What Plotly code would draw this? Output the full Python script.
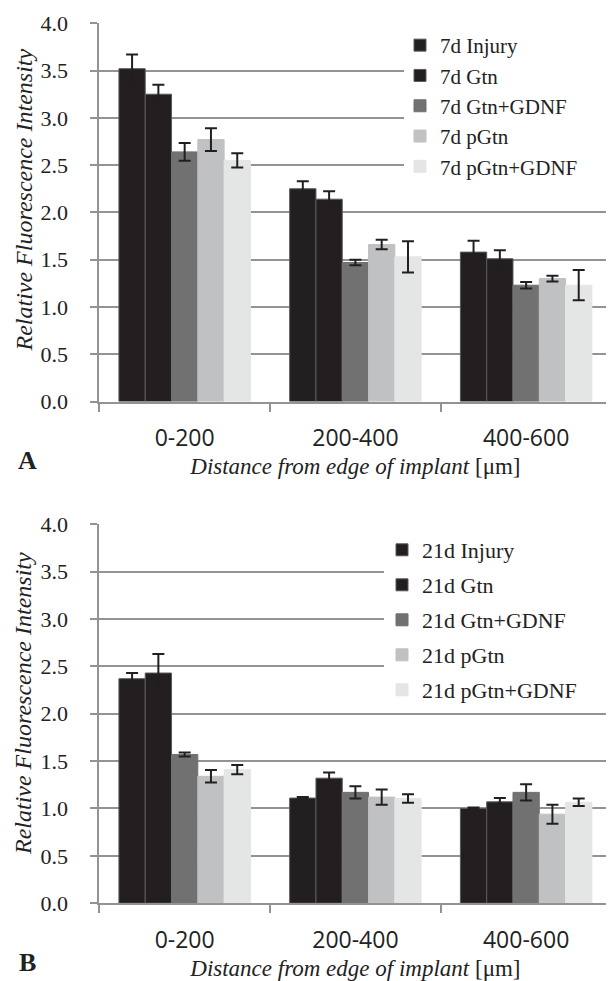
import plotly.graph_objects as go

categories = ["0-200", "200-400", "400-600"]
y_ticks = [0.0, 0.5, 1.0, 1.5, 2.0, 2.5, 3.0, 3.5, 4.0]

names_7d = ["7d Injury", "7d Gtn", "7d Gtn+GDNF", "7d pGtn", "7d pGtn+GDNF"]
injury_7d = [3.52, 2.25, 1.58]
injury_7d_err = [0.15, 0.08, 0.12]
gtn_7d = [3.25, 2.14, 1.51]
gtn_7d_err = [0.10, 0.085, 0.09]
gtn_gdnf_7d = [2.64, 1.47, 1.23]
gtn_gdnf_7d_err = [0.095, 0.03, 0.035]
pgtn_7d = [2.77, 1.66, 1.30]
pgtn_7d_err = [0.12, 0.05, 0.03]
pgtn_gdnf_7d = [2.55, 1.53, 1.23]
pgtn_gdnf_7d_err = [0.075, 0.165, 0.16]

names_21d = ["21d Injury", "21d Gtn", "21d Gtn+GDNF", "21d pGtn", "21d pGtn+GDNF"]
injury_21d = [2.37, 1.11, 1.00]
injury_21d_err = [0.06, 0.01, 0.01]
gtn_21d = [2.43, 1.32, 1.07]
gtn_21d_err = [0.20, 0.06, 0.04]
gtn_gdnf_21d = [1.57, 1.17, 1.17]
gtn_gdnf_21d_err = [0.02, 0.065, 0.085]
pgtn_21d = [1.34, 1.12, 0.94]
pgtn_21d_err = [0.065, 0.08, 0.10]
pgtn_gdnf_21d = [1.41, 1.105, 1.065]
pgtn_gdnf_21d_err = [0.05, 0.045, 0.04]

colors = ["#231f20", "#231f20", "#717171", "#c0c1c3", "#e4e6e5"]
edge_colors = ["#5a5a5a", "#5a5a5a", "#717171", "#c0c1c3", "#e4e6e5"]

# The page body has an 8px margin, so the figure is sized to fit the window
OFF = 8
W, H = 614 - OFF, 981 - OFF
def fx(p):
    return (p - OFF) / W
def fy(p):
    return 1 - (p - OFF) / H

SERIF = "Liberation Serif, Times New Roman, Times, serif"
SANS = "Open Sans, sans-serif"
GRID = "#939393"
INK = "#222222"

fig = go.Figure()

top_vals = [injury_7d, gtn_7d, gtn_gdnf_7d, pgtn_7d, pgtn_gdnf_7d]
top_errs = [injury_7d_err, gtn_7d_err, gtn_gdnf_7d_err, pgtn_7d_err, pgtn_gdnf_7d_err]
bot_vals = [injury_21d, gtn_21d, gtn_gdnf_21d, pgtn_21d, pgtn_gdnf_21d]
bot_errs = [injury_21d_err, gtn_21d_err, gtn_gdnf_21d_err, pgtn_21d_err, pgtn_gdnf_21d_err]

for i in range(5):
    fig.add_trace(go.Bar(
        x=categories, y=top_vals[i], name=names_7d[i],
        marker=dict(color=colors[i], line=dict(color=edge_colors[i], width=1)),
        error_y=dict(type="data", array=top_errs[i], color="#231f20", thickness=2, width=6),
        xaxis="x", yaxis="y", legend="legend", legendgroup="a%d" % i,
    ))
for i in range(5):
    fig.add_trace(go.Bar(
        x=categories, y=bot_vals[i], name=names_21d[i],
        marker=dict(color=colors[i], line=dict(color=edge_colors[i], width=1)),
        error_y=dict(type="data", array=bot_errs[i], color="#231f20", thickness=2, width=6),
        xaxis="x2", yaxis="y2", legend="legend2", legendgroup="b%d" % i,
    ))

xdom = [fx(99.3), fx(611.5)]
xax = dict(
    domain=xdom, type="category", showgrid=False, zeroline=False, automargin=False,
    showline=True, linecolor=GRID, linewidth=2,
    ticks="outside", tickson="boundaries", ticklen=8, tickcolor=GRID, tickwidth=2,
    tickfont=dict(family=SANS, size=23, color=INK), ticklabelstandoff=15,
    title=dict(text="<i>Distance from edge of implant</i> [μm]",
               font=dict(family=SERIF, size=23, color=INK), standoff=6),
)
yax = dict(
    range=[0, 4.0], tickvals=y_ticks, tickformat=".1f", automargin=False,
    showgrid=True, gridcolor=GRID, gridwidth=2, zeroline=False,
    showline=True, linecolor=GRID, linewidth=2,
    ticks="outside", ticklen=7, tickcolor=GRID, tickwidth=2,
    tickfont=dict(family=SERIF, size=22, color=INK), ticklabelstandoff=18,
)

ytitle = "<i>Relative Fluorescence Intensity</i>"

fig.update_layout(
    width=W, height=H, margin=dict(l=0, r=0, t=0, b=0, pad=0),
    paper_bgcolor="white", plot_bgcolor="white",
    barmode="group", bargap=0.23, bargroupgap=0,
    xaxis=dict(xax, anchor="y"),
    yaxis=dict(yax, domain=[fy(401.5), fy(23.3)], anchor="x"),
    xaxis2=dict(xax, anchor="y2"),
    yaxis2=dict(yax, domain=[fy(903.2), fy(524.3)], anchor="x2"),
    legend=dict(x=fx(400), y=fy(25), xanchor="left", yanchor="top",
                bgcolor="rgba(0,0,0,0)", borderwidth=0,
                font=dict(family=SERIF, size=21, color=INK),
                tracegroupgap=0, itemclick=False),
    legend2=dict(x=fx(382), y=fy(529), xanchor="left", yanchor="top",
                 bgcolor="rgba(0,0,0,0)", borderwidth=0,
                 font=dict(family=SERIF, size=22, color=INK),
                 tracegroupgap=3.4, itemclick=False),
    shapes=[
        dict(type="rect", xref="paper", yref="paper", layer="above",
             x0=fx(404), x1=1, y0=fy(175), y1=fy(29),
             fillcolor="white", line=dict(width=0)),
        dict(type="rect", xref="paper", yref="paper", layer="above",
             x0=fx(384), x1=1, y0=fy(705), y1=fy(530),
             fillcolor="white", line=dict(width=0)),
    ],
    annotations=[
        dict(text=ytitle, textangle=-90, x=fx(23), y=fy(200.5), xref="paper", yref="paper",
             xanchor="center", yanchor="middle", showarrow=False,
             font=dict(family=SERIF, size=24, color=INK)),
        dict(text=ytitle, textangle=-90, x=fx(23), y=fy(704), xref="paper", yref="paper",
             xanchor="center", yanchor="middle", showarrow=False,
             font=dict(family=SERIF, size=24, color=INK)),
        dict(text="<b>A</b>", x=fx(27), y=fy(460), xref="paper", yref="paper",
             xanchor="center", yanchor="middle",
             showarrow=False, font=dict(family=SERIF, size=26, color=INK)),
        dict(text="<b>B</b>", x=fx(27), y=fy(962), xref="paper", yref="paper",
             xanchor="center", yanchor="middle",
             showarrow=False, font=dict(family=SERIF, size=26, color=INK)),
    ],
)

fig.write_html("out.html")
